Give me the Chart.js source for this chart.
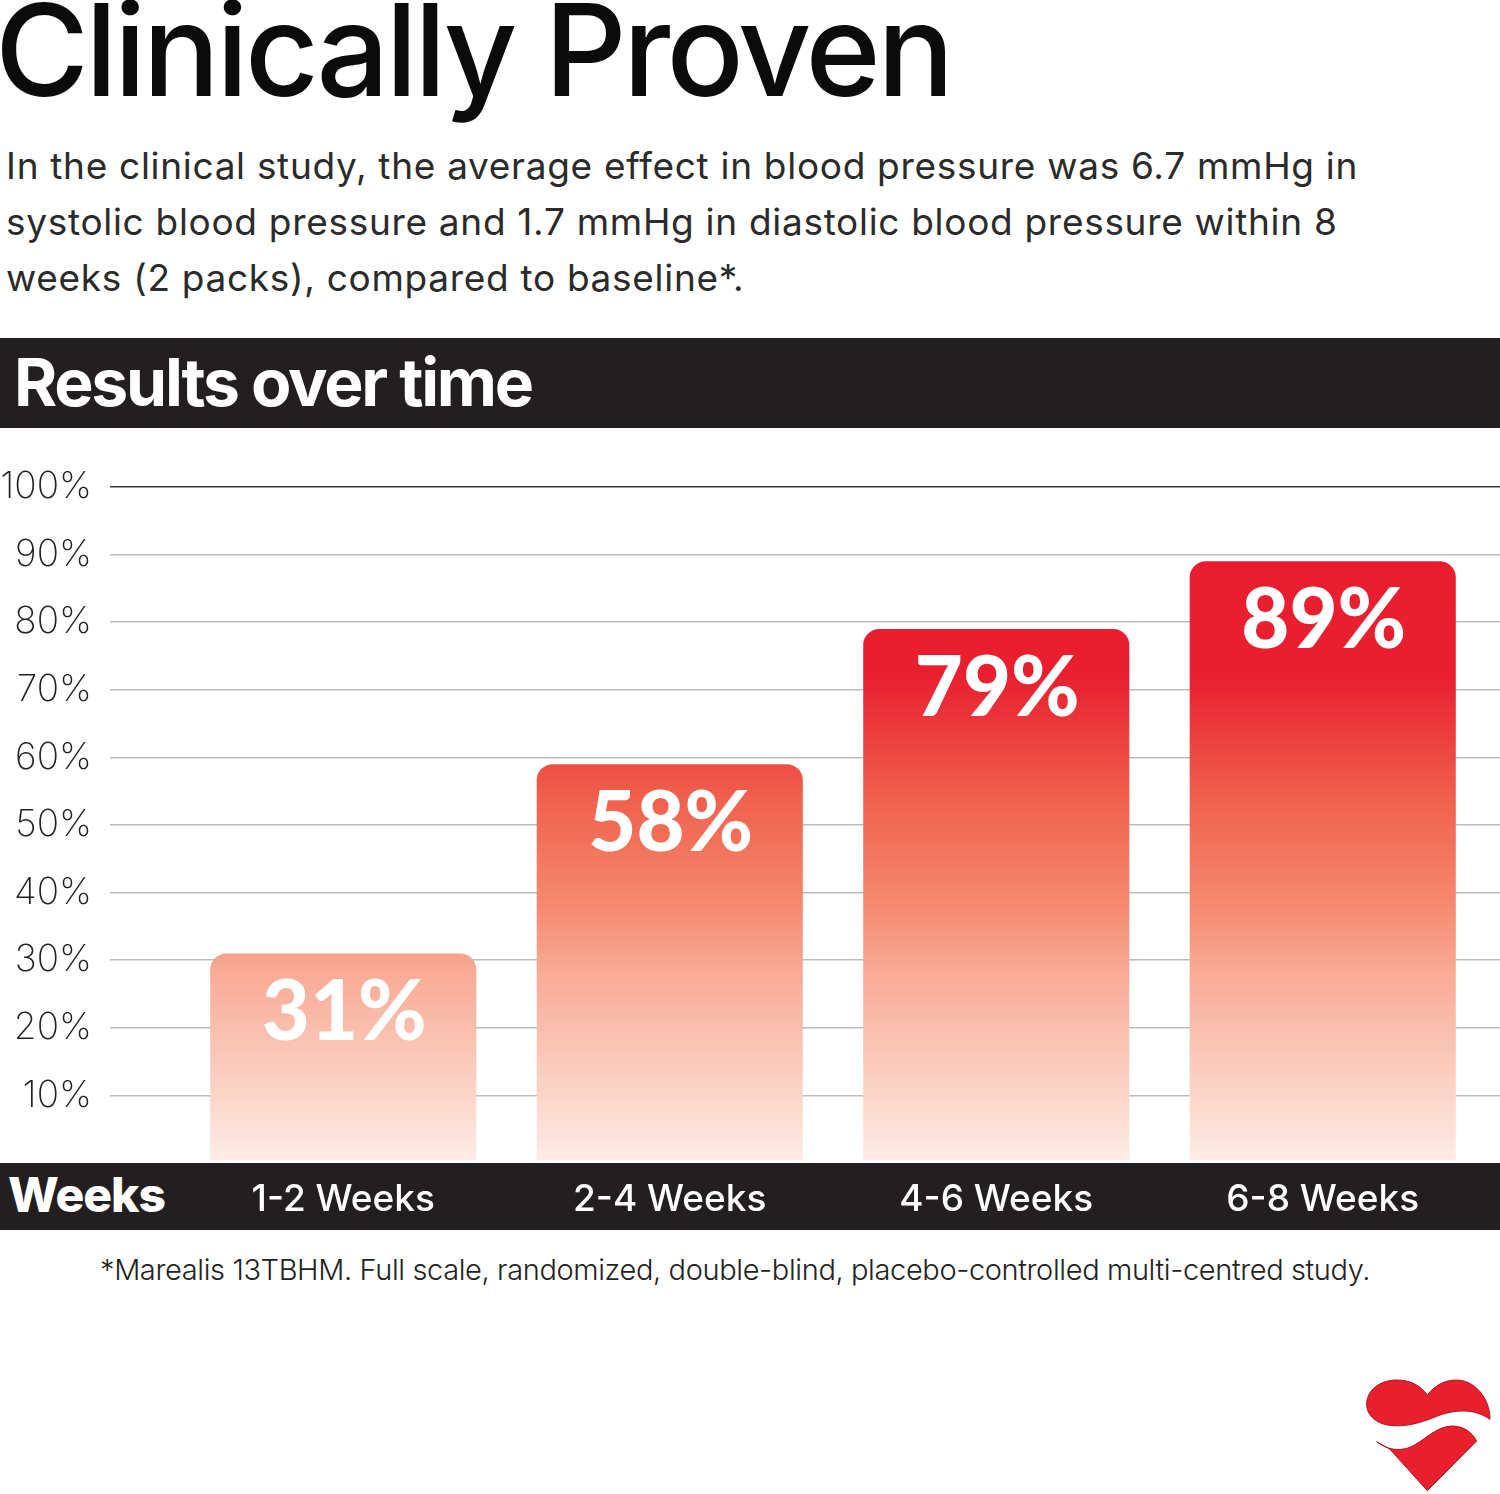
<!DOCTYPE html>
<html>
<head>
<meta charset="utf-8">
<script src="https://cdn.jsdelivr.net/npm/chart.js@4"></script>
<style>
  html, body { margin: 0; padding: 0; background: #fff; }
  #page { position: relative; width: 1500px; height: 1494px; overflow: hidden; font-family: "Lato", sans-serif; }
  #page > * { position: absolute; margin: 0; white-space: nowrap; }
  canvas { left: 0; top: 0; display: block; }
  .band { left: 0; width: 1500px; background: #231f20; }
  #title { left: -5px; top: -25px; font: 500 128px/150px "Inter", sans-serif; letter-spacing: -3.55px; color: #0b0b0b; }
  #intro { left: 6px; top: 138px; font: 400 37px/56px "Inter", sans-serif; letter-spacing: 0.7px; color: #2b2b2b; }
  #results { left: 14px; top: 337px; font: 700 66px/90px "Inter", sans-serif; letter-spacing: -2.25px; color: #fff; }
  #weeks { left: 8px; top: 1162px; font: 800 48px/66px "Inter", sans-serif; letter-spacing: -1px; color: #fff; }
  #foot { left: 100px; top: 1250px; font: 300 29px/40px "Inter", sans-serif; letter-spacing: -0.38px; color: #222; }
  #heart { left: 1340px; top: 1360px; }
</style>
</head>
<body>
<div id="page">
  <h1 id="title">Clinically Proven</h1>
  <p id="intro">In the clinical study, the average effect in blood pressure was 6.7 mmHg in<br>systolic blood pressure and 1.7 mmHg in diastolic blood pressure within 8<br>weeks (2 packs), compared to baseline*.</p>
  <div class="band" style="top:338px;height:90px"></div>
  <div id="results">Results over time</div>
  <div class="band" style="top:1163px;height:67px"></div>
  <div id="weeks">Weeks</div>
  <p id="foot">*Marealis 13TBHM. Full scale, randomized, double-blind, placebo-controlled multi-centred study.</p>
  <svg id="heart" width="160" height="134" viewBox="0 0 480 402">
    <path fill="#e8202e" stroke="#b5121f" stroke-width="3" d="M262 105C290 70 320 60 350 60C400 60 450 110 450 178C410 150 360 145 300 165C250 185 210 200 160 197C110 195 78 165 80 130C82 90 120 60 170 60C210 60 240 75 262 105Z"/>
    <path fill="#e8202e" stroke="#b5121f" stroke-width="3" d="M110 245C140 268 175 275 210 262C250 245 285 200 335 198C370 198 395 215 410 243L262 392L150 268Z"/>
  </svg>
  <canvas id="chart" width="1500" height="1494"></canvas>
</div>
<script>
const categories = ['1-2 Weeks', '2-4 Weeks', '4-6 Weeks', '6-8 Weeks'];
const barValues = [31, 59, 79, 89];
const barLabels = ['31%', '58%', '79%', '89%'];
const yTicks = [10, 20, 30, 40, 50, 60, 70, 80, 90, 100];

function barFill(ctx) {
    const chart = ctx.chart;
    if (!chart.chartArea) return '#e91c2e';
    const y = chart.scales.y;
    const g = chart.ctx.createLinearGradient(0, y.getPixelForValue(100), 0, y.getPixelForValue(0));
    g.addColorStop(0, '#e91c2e');
    g.addColorStop(0.28, '#e91f30');
    g.addColorStop(0.46, '#f0604c');
    g.addColorStop(0.62, '#f68a70');
    g.addColorStop(0.72, '#f9ab96');
    g.addColorStop(0.90, '#fcd5c9');
    g.addColorStop(1, '#fdeee8');
    return g;
}

// white value text near the top of each bar
const barText = {
    id: 'barText',
    afterDatasetsDraw(chart) {
        const c = chart.ctx;
        c.save();
        c.fillStyle = '#fff';
        c.textAlign = 'center';
        c.textBaseline = 'middle';
        c.font = '900 83px Lato, sans-serif';
        chart.getDatasetMeta(0).data.forEach((bar, i) => {
            c.fillText(barLabels[i], bar.x + 1, bar.y + 60);
        });
        c.restore();
    }
};

new Chart(document.getElementById('chart'), {
    type: 'bar',
    data: {
        labels: categories,
        datasets: [{
            data: barValues,
            base: 0.45,
            backgroundColor: barFill,
            borderSkipped: 'bottom',
            borderRadius: { topLeft: 16, topRight: 16 },
            barPercentage: 0.815,
            categoryPercentage: 1
        }]
    },
    options: {
        responsive: false,
        animation: false,
        devicePixelRatio: 1,
        layout: { padding: { top: 487, bottom: 271, left: 0, right: 0 } },
        plugins: { legend: { display: false }, tooltip: { enabled: false } },
        scales: {
            x: {
                grid: { display: false },
                border: { display: false },
                afterFit: s => { s.height = 60; },
                ticks: {
                    color: '#fff',
                    padding: 7,
                    maxRotation: 0,
                    font: { family: 'Inter', size: 37, weight: '500' }
                }
            },
            y: {
                min: 0,
                max: 100,
                afterFit: s => { s.width = 180; },
                afterBuildTicks: s => { s.ticks = [0].concat(yTicks).map(v => ({ value: v })); },
                border: { display: false },
                grid: {
                    tickLength: 70,
                    lineWidth: 1.5,
                    color: c => c.tick.value === 100 ? '#3a3a3a' : c.tick.value === 0 ? 'transparent' : '#bdbdbd',
                    tickColor: c => c.tick.value === 100 ? '#3a3a3a' : c.tick.value === 0 ? 'transparent' : '#bdbdbd'
                },
                ticks: {
                    color: '#222',
                    padding: 18,
                    callback: v => v === 0 ? '' : v + '%',
                    font: { family: 'Inter', size: 37, weight: '200' }
                }
            },
            y2: {
                position: 'right',
                min: 0,
                max: 100,
                afterFit: s => { s.width = 14; },
                afterBuildTicks: s => { s.ticks = [0].concat(yTicks).map(v => ({ value: v })); },
                border: { display: false },
                grid: {
                    drawOnChartArea: false,
                    tickLength: 14,
                    lineWidth: 1.5,
                    tickColor: c => c.tick.value === 100 ? '#3a3a3a' : c.tick.value === 0 ? 'transparent' : '#bdbdbd'
                },
                ticks: { display: false }
            }
        }
    },
    plugins: [barText]
});
</script>
</body>
</html>
